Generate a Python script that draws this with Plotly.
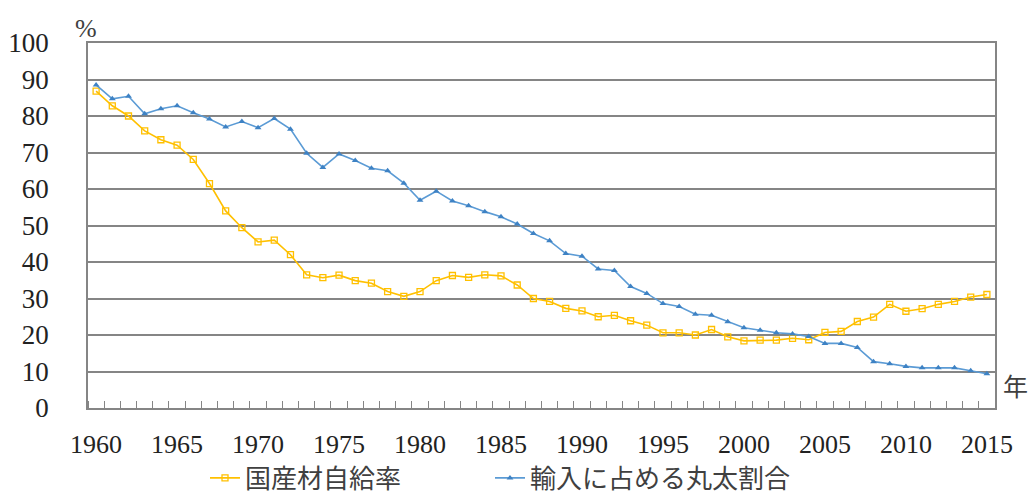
import plotly.graph_objects as go

years = list(range(1960, 2016))
domestic_rate = [86.8, 82.8, 80.0, 75.9, 73.5, 72.0, 68.1, 61.5, 54.0, 49.4,
                 45.5, 46.0, 42.0, 36.5, 35.7, 36.4, 34.9, 34.2, 31.9, 30.6,
                 31.9, 34.9, 36.3, 35.8, 36.5, 36.2, 33.7, 30.0, 29.2, 27.3,
                 26.6, 25.0, 25.4, 23.9, 22.7, 20.6, 20.6, 20.0, 21.5, 19.5,
                 18.4, 18.6, 18.6, 19.1, 18.7, 20.7, 21.0, 23.7, 24.9, 28.4,
                 26.5, 27.2, 28.4, 29.2, 30.4, 31.1]
log_share = [88.5, 84.7, 85.4, 80.6, 82.0, 82.8, 80.9, 79.2, 77.0, 78.5,
             76.8, 79.3, 76.4, 69.8, 65.9, 69.6, 67.8, 65.7, 65.0, 61.6,
             56.9, 59.4, 56.7, 55.4, 53.8, 52.4, 50.4, 47.8, 45.8, 42.3,
             41.6, 38.1, 37.7, 33.3, 31.4, 28.6, 27.8, 25.7, 25.4, 23.6,
             22.0, 21.3, 20.6, 20.3, 19.6, 17.7, 17.7, 16.6, 12.7, 12.1,
             11.4, 11.0, 11.0, 11.0, 10.2, 9.4]
x_tick_vals = list(range(1960, 2016, 5))
x_tick_text = [str(v) for v in x_tick_vals]
name_domestic = "国産材自給率"
name_logs = "輸入に占める丸太割合"

W, H = 1033, 499
ML, MR, MT, MB = 88, 38, 43, 91
pw, ph = W - ML - MR, H - MT - MB

def px_to_paper(px, py):
    return (px - ML) / pw, (H - MB - py) / ph

serif = "Times New Roman, Liberation Serif, serif"
cjk = "Noto Sans CJK JP"

fig = go.Figure()
fig.add_trace(go.Scatter(
    x=years, y=domestic_rate, name=name_domestic, mode="lines+markers",
    line=dict(color="#FFC000", width=1.6), legend="legend",
    marker=dict(symbol="square-open", size=6, color="#FFC000", line=dict(width=1.3)),
))
fig.add_trace(go.Scatter(
    x=years, y=log_share, name=name_logs, mode="lines+markers",
    line=dict(color="#5B9BD5", width=1.6), legend="legend2",
    marker=dict(symbol="triangle-up", size=6, color="#3E82C4"),
))

grid_col = "#858585"
pct_x, pct_y = px_to_paper(86, 28)
nen_x, nen_y = px_to_paper(1015, 385)
leg_common = dict(orientation="h", xanchor="left", xref="container", yref="container",
                  y=1 - 478 / H, yanchor="middle", itemwidth=30,
                  font=dict(family=cjk, size=26, color="#404040"),
                  bgcolor="rgba(0,0,0,0)")
fig.update_layout(
    width=W, height=H,
    margin=dict(l=ML, r=MR, t=MT, b=MB, autoexpand=False),
    paper_bgcolor="white", plot_bgcolor="white",
    showlegend=True,
    legend=dict(x=205 / W, **leg_common),
    legend2=dict(x=490 / W, **leg_common),
    xaxis=dict(range=[1959.5, 2015.5], tickvals=x_tick_vals, ticktext=x_tick_text,
               ticks="", showgrid=False, zeroline=False, automargin=False,
               showline=True, linecolor=grid_col, linewidth=1.5, mirror=True,
               tickfont=dict(family=serif, size=26, color="#222222"),
               ticklabelstandoff=12,
               minor=dict(tick0=1959.5, dtick=1, ticks="inside", ticklen=7,
                          tickcolor=grid_col, tickwidth=1.3, showgrid=False)),
    yaxis=dict(range=[0, 100], dtick=10, showgrid=True, gridcolor=grid_col, gridwidth=1.5,
               zeroline=False, showline=True, linecolor=grid_col, linewidth=1.5, mirror=True,
               ticks="", automargin=False,
               tickfont=dict(family=serif, size=27, color="#222222"),
               ticklabelstandoff=32),
    annotations=[
        dict(text="%", x=pct_x, y=pct_y, xref="paper", yref="paper", showarrow=False,
             xanchor="center", yanchor="middle",
             font=dict(family=serif, size=26, color="#404040")),
        dict(text="年", x=nen_x, y=nen_y, xref="paper", yref="paper", showarrow=False,
             xanchor="center", yanchor="middle",
             font=dict(family=cjk, size=25, color="#404040")),
    ],
)
fig.write_html("out.html", config={"displayModeBar": False},
               post_script="document.body.style.margin='0';document.body.style.overflow='hidden';")
